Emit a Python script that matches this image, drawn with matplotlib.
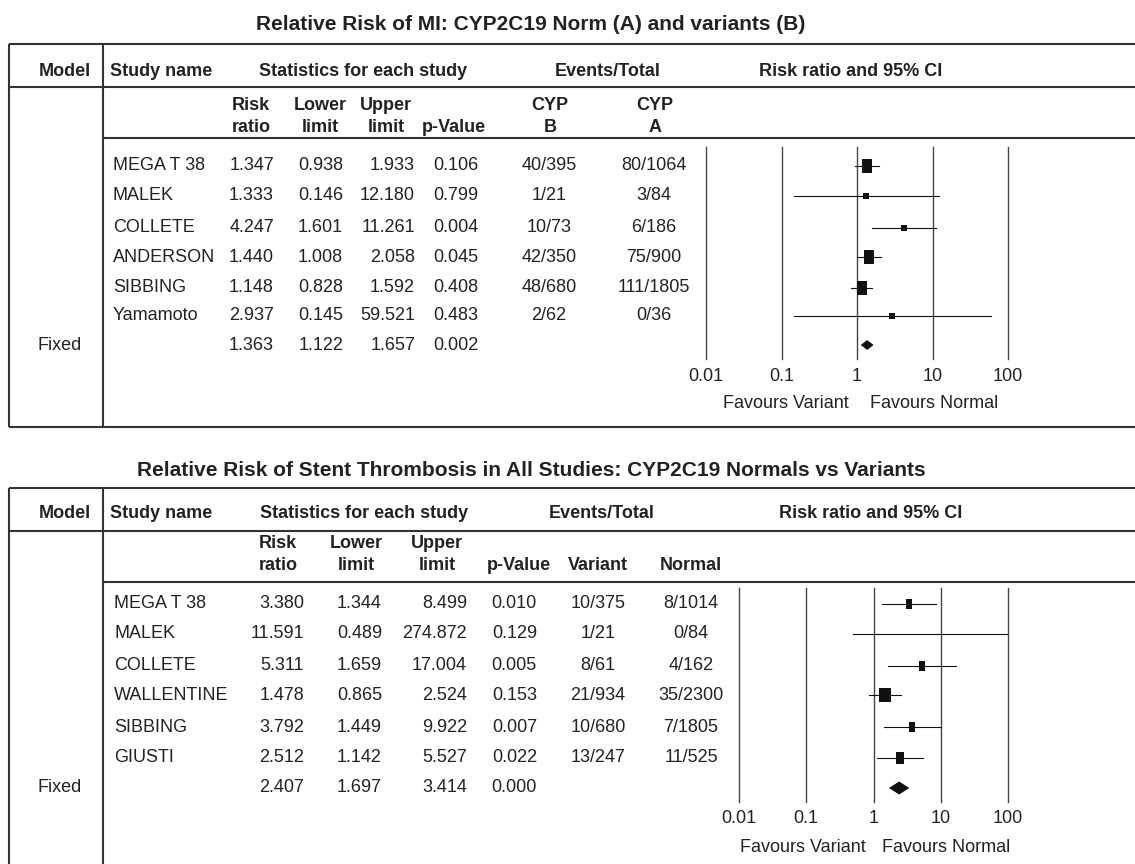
import matplotlib
matplotlib.use('Agg')
import matplotlib.pyplot as plt
from matplotlib.path import Path

plt.rcParams['font.family'] = ['Liberation Sans', 'DejaVu Sans']

W, H = 1135, 864
INK = '#222222'
FS = 13

# ---------------- data: MI panel
mi_title = 'Relative Risk of MI: CYP2C19 Norm (A) and variants (B)'
mi_studies = ['MEGA T 38', 'MALEK', 'COLLETE', 'ANDERSON', 'SIBBING', 'Yamamoto']
mi_rr = [1.347, 1.333, 4.247, 1.440, 1.148, 2.937]
mi_lower = [0.938, 0.146, 1.601, 1.008, 0.828, 0.145]
mi_upper = [1.933, 12.180, 11.261, 2.058, 1.592, 59.521]
mi_p = [0.106, 0.799, 0.004, 0.045, 0.408, 0.483]
mi_events_b = ['40/395', '1/21', '10/73', '42/350', '48/680', '2/62']
mi_events_a = ['80/1064', '3/84', '6/186', '75/900', '111/1805', '0/36']
mi_fixed = [1.363, 1.122, 1.657, 0.002]
mi_groups = [('CYP', 'B'), ('CYP', 'A')]

# ---------------- data: stent thrombosis panel
st_title = 'Relative Risk of Stent Thrombosis in All Studies: CYP2C19 Normals vs Variants'
st_studies = ['MEGA T 38', 'MALEK', 'COLLETE', 'WALLENTINE', 'SIBBING', 'GIUSTI']
st_rr = [3.380, 11.591, 5.311, 1.478, 3.792, 2.512]
st_lower = [1.344, 0.489, 1.659, 0.865, 1.449, 1.142]
st_upper = [8.499, 274.872, 17.004, 2.524, 9.922, 5.527]
st_p = [0.010, 0.129, 0.005, 0.153, 0.007, 0.022]
st_events_v = ['10/375', '1/21', '8/61', '21/934', '10/680', '13/247']
st_events_n = ['8/1014', '0/84', '4/162', '35/2300', '7/1805', '11/525']
st_fixed = [2.407, 1.697, 3.414, 0.000]
st_groups = [('', 'Variant'), ('', 'Normal')]

axis_ticks = [0.01, 0.1, 1, 10, 100]
axis_labels = ['0.01', '0.1', '1', '10', '100']

# ---------------- layout (pixels)
mi_lay = dict(title_y=24, top=44, head_y=72, head_line=87, sub1=105, sub2=128,
              sub_line=138, rows=[166, 196, 228, 257, 288, 316, 345], bottom=427,
              vtop=147, vbot=359, tick_pad=6.5, fav_y=403,
              rr_x=274, lo_x=343, hi_x=415, p_x=478, e1_x=549, e2_x=654,
              rr_h=251, lo_h=320, hi_h=386, p_h=454, g1_h=550, g2_h=655,
              stats_h=363, events_h=608, ci_h=851, x_lo=706, x_hi=1008,
              name_x=113, fav_gap=(8, 13), diamond_h=10,
              box_w=[10.3, 5.9, 6.2, 10.6, 10.6, 6.2],
              box_h=[13.3, 5.3, 5.7, 13.3, 13.3, 5.7])
st_lay = dict(title_y=471, top=488, head_y=513, head_line=531, sub1=543, sub2=566,
              sub_line=582, rows=[604, 634, 666, 695, 727, 758, 788], bottom=None,
              vtop=588, vbot=802, tick_pad=6.0, fav_y=848,
              rr_x=304, lo_x=382, hi_x=467, p_x=537, e1_x=598, e2_x=691,
              rr_h=278, lo_h=356, hi_h=437, p_h=519, g1_h=598, g2_h=691,
              stats_h=364, events_h=602, ci_h=871, x_lo=739, x_hi=1008,
              name_x=114, fav_gap=(8, 9), diamond_h=13,
              box_w=[6.6, 0, 5.5, 12.1, 6.2, 7.3],
              box_h=[10.7, 0, 9.3, 14.0, 10.0, 12.3])

LEFT, DIV = 9, 103
BORDER = dict(color='#333333', lw=1.5, solid_capstyle='butt')

fig = plt.figure(figsize=(W / 100, H / 100), dpi=100)
base = fig.add_axes([0, 0, 1, 1])
base.set_xlim(0, W)
base.set_ylim(H, 0)
base.axis('off')


def txt(x, y, s, ha='center', bold=False, size=FS):
    base.text(x, y, s, ha=ha, va='center', fontsize=size, color=INK,
              fontweight='bold' if bold else 'normal')


def box_marker(w, h):
    return Path([(-w / 2, -h / 2), (w / 2, -h / 2), (w / 2, h / 2), (-w / 2, h / 2), (0, 0)],
                [Path.MOVETO, Path.LINETO, Path.LINETO, Path.LINETO, Path.CLOSEPOLY])


def draw_panel(L, title, studies, rr, lower, upper, pval, ev1, ev2, fixed, groups):
    txt(531, L['title_y'], title, bold=True, size=15)

    # frame
    bot = L['bottom'] if L['bottom'] else H + 2
    base.plot([LEFT, W], [L['top'], L['top']], **BORDER)
    base.plot([LEFT, W], [L['head_line'], L['head_line']], **BORDER)
    base.plot([DIV, W], [L['sub_line'], L['sub_line']], **BORDER)
    if L['bottom']:
        base.plot([LEFT, W], [bot, bot], **BORDER)
    base.plot([LEFT, LEFT], [L['top'], bot], **BORDER)
    base.plot([DIV, DIV], [L['top'], bot], **BORDER)

    # headers
    hy = L['head_y']
    txt(91, hy, 'Model', ha='right', bold=True)
    txt(110, hy, 'Study name', ha='left', bold=True)
    txt(L['stats_h'], hy, 'Statistics for each study', bold=True)
    txt(L['events_h'], hy, 'Events/Total', bold=True)
    txt(L['ci_h'], hy, 'Risk ratio and 95% CI', bold=True)

    s1, s2 = L['sub1'], L['sub2']
    txt(L['rr_h'], s1, 'Risk', bold=True)
    txt(L['rr_h'], s2, 'ratio', bold=True)
    txt(L['lo_h'], s1, 'Lower', bold=True)
    txt(L['lo_h'], s2, 'limit', bold=True)
    txt(L['hi_h'], s1, 'Upper', bold=True)
    txt(L['hi_h'], s2, 'limit', bold=True)
    txt(L['p_h'], s2, 'p-Value', bold=True)
    for gx, (g_top, g_bot) in zip([L['g1_h'], L['g2_h']], groups):
        if g_top:
            txt(gx, s1, g_top, bold=True)
        txt(gx, s2, g_bot, bold=True)

    # table rows
    rows = L['rows']
    for i, name in enumerate(studies):
        y = rows[i]
        txt(L['name_x'], y, name, ha='left')
        txt(L['rr_x'], y, f'{rr[i]:.3f}', ha='right')
        txt(L['lo_x'], y, f'{lower[i]:.3f}', ha='right')
        txt(L['hi_x'], y, f'{upper[i]:.3f}', ha='right')
        txt(L['p_x'], y, f'{pval[i]:.3f}', ha='right')
        txt(L['e1_x'], y, ev1[i])
        txt(L['e2_x'], y, ev2[i])
    fy = rows[-1]
    txt(60, fy, 'Fixed')
    for x, v in zip(['rr_x', 'lo_x', 'hi_x', 'p_x'], fixed):
        txt(L[x], fy, f'{v:.3f}', ha='right')

    # forest plot
    x0, x1 = L['x_lo'], L['x_hi']
    ax = fig.add_axes([x0 / W, (H - L['vbot']) / H, (x1 - x0) / W, (L['vbot'] - L['vtop']) / H])
    ax.set_xscale('log')
    ax.set_xlim(axis_ticks[0], axis_ticks[-1])
    ax.set_ylim(L['vbot'], L['vtop'])
    ax.patch.set_visible(False)
    for sp in ax.spines.values():
        sp.set_visible(False)
    ax.set_yticks([])
    ax.set_xticks(axis_ticks)
    ax.set_xticklabels(axis_labels)
    ax.minorticks_off()
    ax.tick_params(axis='x', length=0, pad=L['tick_pad'], labelsize=FS, labelcolor=INK)
    for t in axis_ticks:
        ax.axvline(t, color='#444444', lw=1.0, clip_on=False)

    for i in range(len(studies)):
        y = rows[i]
        ax.plot([lower[i], upper[i]], [y, y], color='#111111', lw=0.8)
        w, h = L['box_w'][i], L['box_h'][i]
        if w > 0:
            ax.plot(rr[i], y, linestyle='none', marker=box_marker(w, h),
                    markersize=max(w, h) * 0.72, color='#111111', mew=0)

    dh = L['diamond_h'] / 2
    ax.fill([fixed[1], fixed[0], fixed[2], fixed[0]], [fy, fy - dh, fy, fy + dh],
            color='#111111', lw=0)

    gl, gr = L['fav_gap']
    ax.annotate('Favours Variant', xy=(1, 0), xycoords=('data', 'axes fraction'),
                xytext=(-gl, -(L['fav_y'] - L['vbot'])), textcoords='offset pixels',
                ha='right', va='center', fontsize=FS, color=INK)
    ax.annotate('Favours Normal', xy=(1, 0), xycoords=('data', 'axes fraction'),
                xytext=(gr, -(L['fav_y'] - L['vbot'])), textcoords='offset pixels',
                ha='left', va='center', fontsize=FS, color=INK)


draw_panel(mi_lay, mi_title, mi_studies, mi_rr, mi_lower, mi_upper, mi_p,
           mi_events_b, mi_events_a, mi_fixed, mi_groups)
draw_panel(st_lay, st_title, st_studies, st_rr, st_lower, st_upper, st_p,
           st_events_v, st_events_n, st_fixed, st_groups)

fig.savefig('out.png', dpi=100)
